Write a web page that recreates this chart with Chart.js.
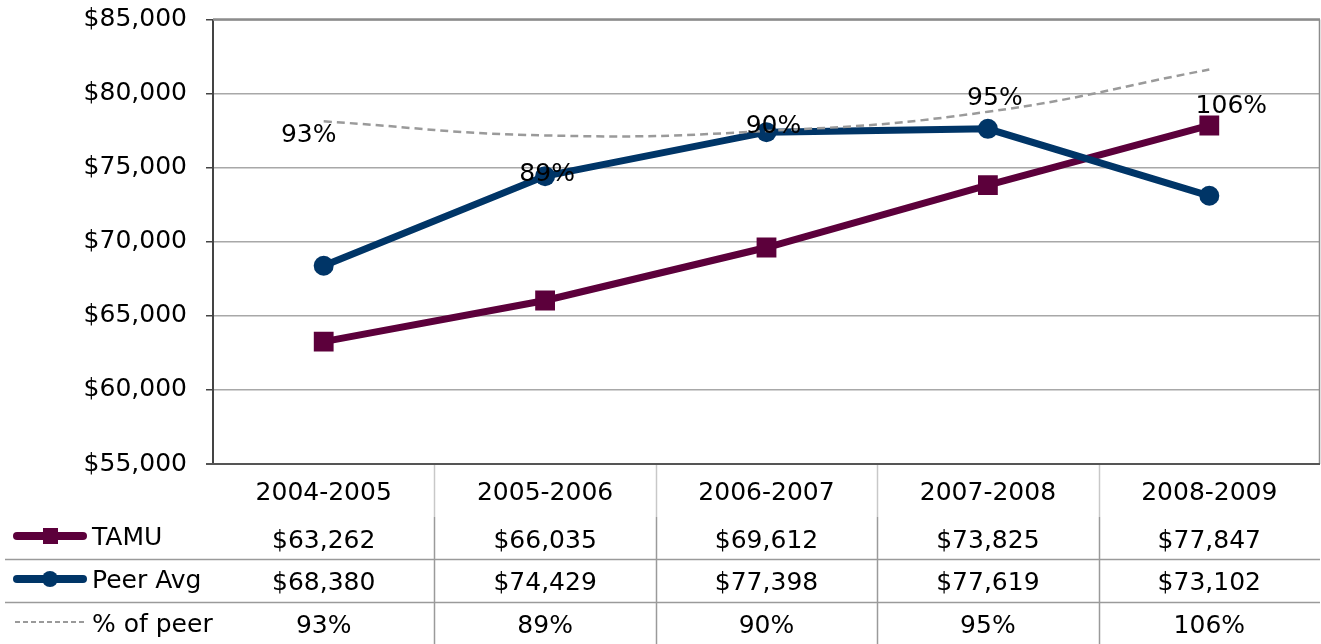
<!DOCTYPE html>
<html>
<head>
<meta charset="utf-8">
<script src="https://cdn.jsdelivr.net/npm/chart.js@4/dist/chart.umd.min.js"></script>
<style>
  html, body { margin: 0; padding: 0; background: #fff; }
  #wrap { width: 1321px; height: 644px; position: relative; }
</style>
</head>
<body>
<div id="wrap"><canvas id="c" width="1321" height="644"></canvas></div>
<script>
const categories = ['2004-2005', '2005-2006', '2006-2007', '2007-2008', '2008-2009'];
const tamu = [63262, 66035, 69612, 73825, 77847];
const peerAvg = [68380, 74429, 77398, 77619, 73102];
const pctOfPeer = [0.925, 0.887, 0.899, 0.951, 1.065];
const pctLabels = ['93%', '89%', '90%', '95%', '106%'];
const seriesNames = ['TAMU', 'Peer Avg', '% of peer'];
const yMin = 55000, yMax = 85000, yStep = 5000;

const FONT = '"DejaVu Sans", sans-serif';
const FSIZE = 25;
const MAROON = '#5c003b';
const NAVY = '#003567';
const DASH = '#9a9a9a';

// label offsets (px) relative to each % point
const labelOffsets = [[-15, 21], [2, 46], [7, 2], [7, -7], [22, 43]];

const money = v => '$' + Math.round(v).toLocaleString('en-US');

const pctLabelPlugin = {
  id: 'pctLabels',
  afterDatasetsDraw(chart) {
    const ctx = chart.ctx;
    const meta = chart.getDatasetMeta(0);
    ctx.save();
    ctx.font = FSIZE + 'px ' + FONT;
    ctx.fillStyle = '#000';
    ctx.textAlign = 'center';
    ctx.textBaseline = 'alphabetic';
    meta.data.forEach((pt, i) => {
      const o = labelOffsets[i];
      ctx.fillText(pctLabels[i], pt.x + o[0], pt.y + o[1]);
    });
    ctx.restore();
  }
};

const framePlugin = {
  id: 'frame',
  beforeDatasetsDraw(chart) {
    const { ctx, chartArea: a } = chart;
    ctx.save();
    ctx.strokeStyle = '#8c8c8c';
    ctx.lineWidth = 2.5;
    ctx.beginPath(); ctx.moveTo(a.left, a.top); ctx.lineTo(a.right, a.top); ctx.stroke();
    ctx.lineWidth = 1.5;
    ctx.beginPath(); ctx.moveTo(a.right - 0.5, a.top); ctx.lineTo(a.right - 0.5, a.bottom); ctx.stroke();
    ctx.strokeStyle = '#555';
    ctx.lineWidth = 2;
    ctx.beginPath(); ctx.moveTo(a.left - 7, a.bottom); ctx.lineTo(a.right, a.bottom); ctx.stroke();
    ctx.restore();
  }
};

const tablePlugin = {
  id: 'dataTable',
  afterDraw(chart) {
    const { ctx, chartArea: a } = chart;
    const xs = chart.scales.x;
    const H = chart.height;
    const px = categories.map((c, i) => xs.getPixelForValue(i));
    const half = (px[1] - px[0]) / 2;
    ctx.save();
    for (let i = 0; i < categories.length - 1; i++) {
      const x = Math.round(px[i] + half) + 0.5;
      ctx.lineWidth = 1.5;
      ctx.strokeStyle = '#c8c8c8';
      ctx.beginPath(); ctx.moveTo(x, a.bottom + 1); ctx.lineTo(x, 517); ctx.stroke();
      ctx.strokeStyle = '#9a9a9a';
      ctx.beginPath(); ctx.moveTo(x, 517); ctx.lineTo(x, H); ctx.stroke();
    }
    ctx.strokeStyle = '#9a9a9a';
    ctx.lineWidth = 1.5;
    [559, 602].forEach(y => {
      ctx.beginPath(); ctx.moveTo(5, y + 0.5); ctx.lineTo(a.right, y + 0.5); ctx.stroke();
    });

    ctx.font = FSIZE + 'px ' + FONT;
    ctx.fillStyle = '#000';
    ctx.textBaseline = 'alphabetic';
    ctx.textAlign = 'center';
    const rows = [
      { y: 500, vals: categories },
      { y: 548, vals: tamu.map(money) },
      { y: 590, vals: peerAvg.map(money) },
      { y: 633, vals: pctLabels }
    ];
    rows.forEach(r => r.vals.forEach((t, i) => ctx.fillText(t, px[i], r.y)));

    ctx.textAlign = 'left';
    ctx.fillText(seriesNames[0], 92, 545);
    ctx.fillText(seriesNames[1], 92, 588);
    ctx.fillText(seriesNames[2], 92, 632);

    ctx.lineCap = 'round';
    ctx.lineWidth = 8;
    ctx.strokeStyle = MAROON;
    ctx.beginPath(); ctx.moveTo(17, 536); ctx.lineTo(83, 536); ctx.stroke();
    ctx.fillStyle = MAROON;
    ctx.fillRect(43, 528, 15, 16);
    ctx.strokeStyle = NAVY;
    ctx.beginPath(); ctx.moveTo(17, 579); ctx.lineTo(83, 579); ctx.stroke();
    ctx.fillStyle = NAVY;
    ctx.beginPath(); ctx.arc(50, 579, 8, 0, Math.PI * 2); ctx.fill();
    ctx.lineCap = 'butt';
    ctx.lineWidth = 2;
    ctx.strokeStyle = DASH;
    ctx.setLineDash([5, 3]);
    ctx.beginPath(); ctx.moveTo(15, 622); ctx.lineTo(85, 622); ctx.stroke();
    ctx.restore();
  }
};

new Chart(document.getElementById('c'), {
  type: 'line',
  data: {
    labels: categories,
    datasets: [
      {
        label: seriesNames[2],
        data: pctOfPeer,
        yAxisID: 'y2',
        borderColor: DASH,
        borderWidth: 2.5,
        borderDash: [8, 5],
        pointRadius: 0,
        tension: 0.45,
        fill: false,
        order: 0
      },
      {
        label: seriesNames[1],
        data: peerAvg,
        yAxisID: 'y',
        borderColor: NAVY,
        backgroundColor: NAVY,
        borderWidth: 7,
        pointStyle: 'circle',
        pointRadius: 10,
        pointBorderWidth: 0,
        tension: 0,
        fill: false,
        order: 1
      },
      {
        label: seriesNames[0],
        data: tamu,
        yAxisID: 'y',
        borderColor: MAROON,
        backgroundColor: MAROON,
        borderWidth: 7,
        pointStyle: 'rect',
        pointRadius: 14,
        pointBorderWidth: 0,
        tension: 0,
        fill: false,
        order: 2
      }
    ]
  },
  options: {
    responsive: false,
    animation: false,
    devicePixelRatio: 1,
    layout: { autoPadding: false, padding: { top: 19.5, right: 1, bottom: 180, left: 0 } },
    plugins: {
      legend: { display: false },
      tooltip: { enabled: false }
    },
    scales: {
      x: {
        type: 'category',
        display: false,
        offset: true
      },
      y: {
        min: yMin,
        max: yMax,
        afterFit(s) { s.width = 213; s.paddingTop = 0; s.paddingBottom = 0; },
        ticks: {
          stepSize: yStep,
          callback: v => money(v),
          font: { family: FONT, size: FSIZE },
          color: '#000',
          padding: 19
        },
        grid: {
          color: '#a8a8a8',
          lineWidth: 1.5,
          tickLength: 7,
          tickColor: '#444'
        },
        border: { color: '#444', width: 2 }
      },
      y2: {
        min: 0,
        max: 1.2,
        display: false,
        afterFit(s) { s.paddingTop = 0; s.paddingBottom = 0; }
      }
    }
  },
  plugins: [framePlugin, pctLabelPlugin, tablePlugin]
});
</script>
</body>
</html>
